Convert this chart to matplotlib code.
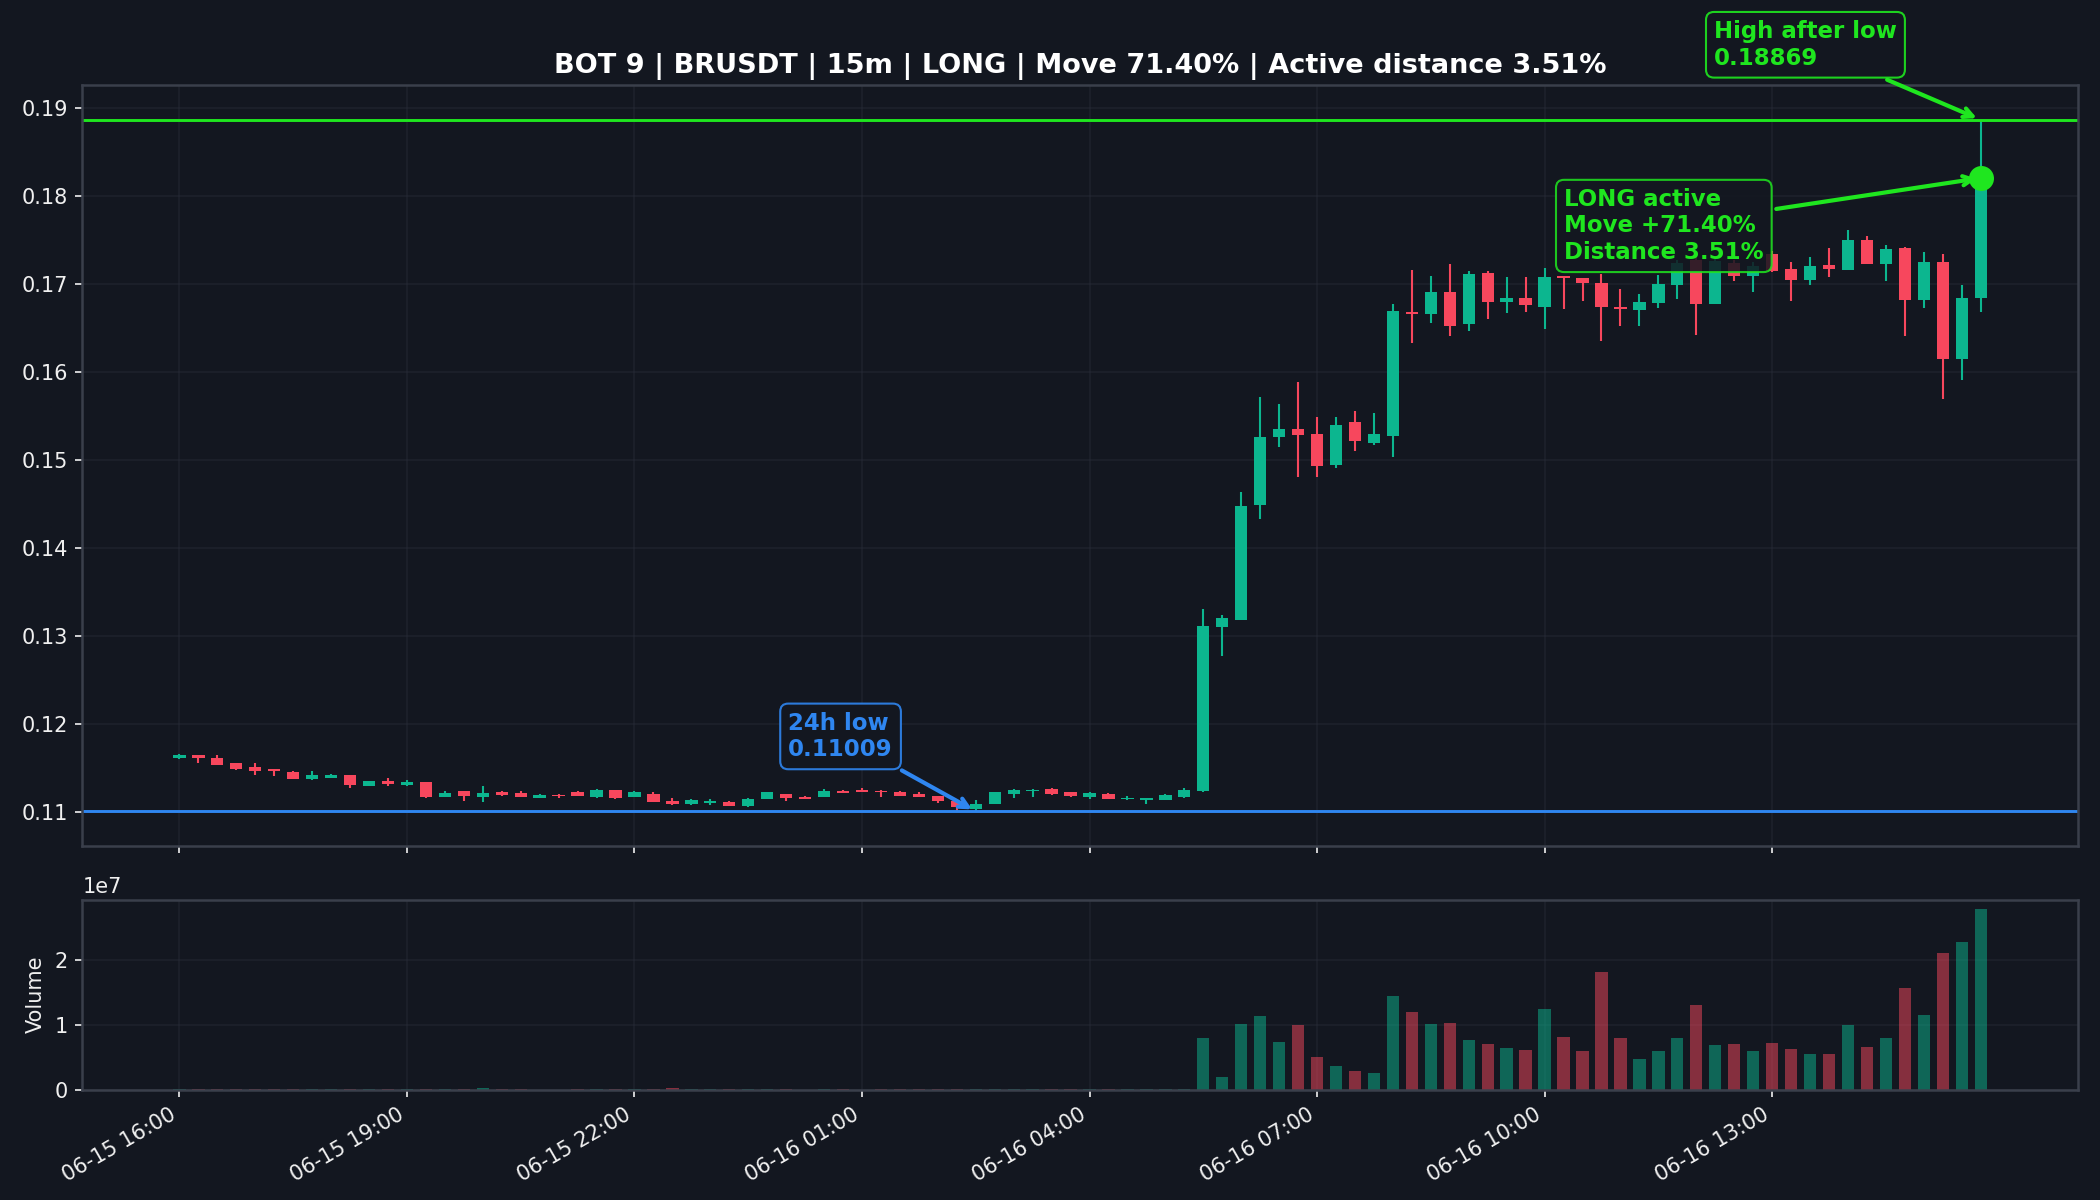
"""
BRUSDT 15m candles with the 24h low / high-after-low markers and a volume pane.
"""

import numpy as np
import matplotlib
matplotlib.use("Agg")
import matplotlib.pyplot as plt
import matplotlib.dates as mdates

# ---- Data ----
start = np.datetime64("2025-06-15T16:00")
n_bars = 96

opens = [
    0.11617, 0.11648, 0.11621, 0.11557, 0.11511, 0.11489, 0.11462, 0.11375, 0.11390, 0.11421,
    0.11299, 0.11360, 0.11307, 0.11341, 0.11171, 0.11239, 0.11178, 0.11231, 0.11216, 0.11163,
    0.11201, 0.11227, 0.11178, 0.11250, 0.11174, 0.11212, 0.11129, 0.11091, 0.11102, 0.11121,
    0.11072, 0.11155, 0.11208, 0.11178, 0.11178, 0.11239, 0.11250, 0.11246, 0.11227, 0.11205,
    0.11186, 0.11129, 0.11042, 0.11095, 0.11208, 0.11242, 0.11261, 0.11224, 0.11178, 0.11212,
    0.11152, 0.11140, 0.11140, 0.11178, 0.11240, 0.13102, 0.13185, 0.14491, 0.15264, 0.15357,
    0.15301, 0.14944, 0.15435, 0.15194, 0.15273, 0.16685, 0.16662, 0.16917, 0.16546, 0.17130,
    0.16801, 0.16847, 0.16736, 0.17097, 0.17070, 0.17015, 0.16742, 0.16712, 0.16784, 0.16992,
    0.17280, 0.16777, 0.17242, 0.17091, 0.17345, 0.17174, 0.17053, 0.17224, 0.17159, 0.17504,
    0.17231, 0.17417, 0.16818, 0.17258, 0.16152, 0.16845,
]
highs = [
    0.11663, 0.11650, 0.11648, 0.11560, 0.11561, 0.11491, 0.11464, 0.11466, 0.11432, 0.11423,
    0.11354, 0.11390, 0.11364, 0.11343, 0.11239, 0.11240, 0.11296, 0.11246, 0.11239, 0.11203,
    0.11203, 0.11242, 0.11265, 0.11252, 0.11242, 0.11224, 0.11167, 0.11148, 0.11148, 0.11123,
    0.11157, 0.11225, 0.11210, 0.11180, 0.11269, 0.11254, 0.11277, 0.11248, 0.11239, 0.11224,
    0.11188, 0.11131, 0.11136, 0.11225, 0.11260, 0.11260, 0.11273, 0.11226, 0.11231, 0.11214,
    0.11189, 0.11165, 0.11203, 0.11273, 0.13315, 0.13241, 0.14644, 0.15718, 0.15644, 0.15884,
    0.15486, 0.15495, 0.15556, 0.15532, 0.16778, 0.17167, 0.17093, 0.17232, 0.17148, 0.17148,
    0.17083, 0.17083, 0.17185, 0.17099, 0.17072, 0.17120, 0.16951, 0.16894, 0.17110, 0.17280,
    0.17320, 0.17300, 0.17280, 0.17250, 0.17375, 0.17250, 0.17311, 0.17413, 0.17621, 0.17553,
    0.17443, 0.17419, 0.17367, 0.17345, 0.16989, 0.18869,
]
lows = [
    0.11610, 0.11561, 0.11535, 0.11477, 0.11421, 0.11413, 0.11373, 0.11364, 0.11388, 0.11273,
    0.11297, 0.11296, 0.11299, 0.11159, 0.11169, 0.11125, 0.11114, 0.11186, 0.11172, 0.11161,
    0.11159, 0.11184, 0.11159, 0.11148, 0.11172, 0.11115, 0.11080, 0.11080, 0.11083, 0.11070,
    0.11061, 0.11153, 0.11129, 0.11153, 0.11176, 0.11214, 0.11227, 0.11174, 0.11182, 0.11176,
    0.11110, 0.11015, 0.11009, 0.11093, 0.11159, 0.11174, 0.11197, 0.11171, 0.11155, 0.11150,
    0.11136, 0.11091, 0.11138, 0.11163, 0.11230, 0.12778, 0.13183, 0.14329, 0.15148, 0.14810,
    0.14810, 0.14917, 0.15107, 0.15171, 0.15042, 0.16329, 0.16556, 0.16407, 0.16468, 0.16607,
    0.16671, 0.16690, 0.16491, 0.16718, 0.16807, 0.16352, 0.16523, 0.16530, 0.16735, 0.16837,
    0.16420, 0.16775, 0.17034, 0.16909, 0.17140, 0.16807, 0.16989, 0.17080, 0.17157, 0.17229,
    0.17034, 0.16409, 0.16731, 0.15697, 0.15909, 0.16682,
]
closes = [
    0.11648, 0.11617, 0.11538, 0.11489, 0.11466, 0.11466, 0.11375, 0.11421, 0.11421, 0.11311,
    0.11352, 0.11322, 0.11345, 0.11178, 0.11216, 0.11182, 0.11216, 0.11193, 0.11174, 0.11201,
    0.11182, 0.11186, 0.11250, 0.11163, 0.11227, 0.11117, 0.11095, 0.11136, 0.11133, 0.11072,
    0.11155, 0.11224, 0.11163, 0.11155, 0.11239, 0.11216, 0.11231, 0.11224, 0.11189, 0.11178,
    0.11125, 0.11064, 0.11095, 0.11224, 0.11258, 0.11258, 0.11205, 0.11186, 0.11216, 0.11152,
    0.11167, 0.11163, 0.11201, 0.11250, 0.13111, 0.13204, 0.14482, 0.15259, 0.15357, 0.15287,
    0.14935, 0.15403, 0.15213, 0.15301, 0.16699, 0.16657, 0.16917, 0.16523, 0.17120, 0.16796,
    0.16843, 0.16759, 0.17083, 0.17069, 0.17015, 0.16739, 0.16720, 0.16803, 0.17004, 0.17242,
    0.16777, 0.17260, 0.17099, 0.17205, 0.17150, 0.17053, 0.17208, 0.17174, 0.17504, 0.17231,
    0.17405, 0.16826, 0.17258, 0.16152, 0.16845, 0.18207,
]
volumes = [
    40000, 60000, 50000, 45000, 55000, 40000, 50000, 45000, 35000, 60000,
    40000, 45000, 35000, 70000, 50000, 60000, 260000, 40000, 35000, 30000,
    30000, 40000, 60000, 50000, 45000, 60000, 220000, 50000, 45000, 40000,
    60000, 50000, 45000, 30000, 50000, 35000, 30000, 40000, 45000, 35000,
    50000, 70000, 80000, 60000, 50000, 45000, 40000, 35000, 40000, 40000,
    35000, 40000, 45000, 60000, 8.0e6, 1.96e6, 1.015e7, 1.14e7, 7.37e6, 1.0e7,
    5.05e6, 3.66e6, 2.89e6, 2.58e6, 1.448e7, 1.20e7, 1.015e7, 1.03e7, 7.68e6, 7.06e6,
    6.44e6, 6.13e6, 1.247e7, 8.14e6, 5.98e6, 1.82e7, 8.0e6, 4.74e6, 5.98e6, 8.0e6,
    1.31e7, 6.9e6, 7.06e6, 5.98e6, 7.2e6, 6.29e6, 5.5e6, 5.5e6, 1.0e7, 6.6e6,
    8.0e6, 1.57e7, 1.155e7, 2.10e7, 2.27e7, 2.79e7,
]

low_24h = 0.11009
low_idx = 42
high_after_low = 0.18869
move_pct = 71.40
distance_pct = 3.51

# ---- Style ----
BG = "#131720"
UP = "#0cb68f"
DOWN = "#f7475d"
BLUE = "#2f86f0"
LIME = "#1fe61f"
GRID = "#2a2e39"
SPINE = "#3a3f4b"
TXT = "#f0f0f0"


def main():
    times = start + np.arange(n_bars) * np.timedelta64(15, "m")
    x = mdates.date2num(times.astype("datetime64[ms]").astype(object))
    step = x[1] - x[0]
    o, h, l, c = map(np.asarray, (opens, highs, lows, closes))
    v = np.asarray(volumes, dtype=float)
    up = c >= o
    colors = np.where(up, UP, DOWN)

    fig = plt.figure(figsize=(14, 8), dpi=150, facecolor=BG)
    ax = fig.add_axes([0.0392, 0.295, 0.9503, 0.634], facecolor=BG)
    axv = fig.add_axes([0.0392, 0.0919, 0.9503, 0.1584], facecolor=BG, sharex=ax)

    for a in (ax, axv):
        a.grid(True, color=GRID, linewidth=0.8, alpha=0.45)
        a.set_axisbelow(True)
        for s in a.spines.values():
            s.set_color(SPINE)
            s.set_linewidth(1.2)
        a.tick_params(colors=TXT, labelsize=10)

    # candles
    ax.vlines(x, l, h, colors=colors, linewidth=1.0, zorder=2)
    body = np.maximum(np.abs(c - o), 0.00004)
    ax.bar(x, body, bottom=np.minimum(o, c), width=step * 0.65,
           color=colors, linewidth=0, zorder=3)

    ax.axhline(low_24h, color=BLUE, linewidth=1.4, zorder=2.5)
    ax.axhline(high_after_low, color=LIME, linewidth=1.4, zorder=2.5)
    ax.plot(x[-1], c[-1], "o", color=LIME, markersize=11, zorder=5)

    ax.annotate(f"24h low\n{low_24h:.5f}", xy=(x[low_idx], low_24h),
                xytext=(-90, 36), textcoords="offset points", ha="left", va="center",
                color=BLUE, fontsize=11, fontweight="bold",
                bbox=dict(boxstyle="round,pad=0.35", fc=BG, ec=BLUE, alpha=0.9),
                arrowprops=dict(arrowstyle="->", color=BLUE, lw=2), zorder=6)
    ax.annotate(f"High after low\n{high_after_low:.5f}", xy=(x[-1], high_after_low),
                xytext=(-128, 36), textcoords="offset points", ha="left", va="center",
                color=LIME, fontsize=11, fontweight="bold",
                bbox=dict(boxstyle="round,pad=0.35", fc=BG, ec=LIME, alpha=0.9),
                arrowprops=dict(arrowstyle="->", color=LIME, lw=2), zorder=6)
    ax.annotate(f"LONG active\nMove +{move_pct:.2f}%\nDistance {distance_pct:.2f}%",
                xy=(x[-1], c[-1]),
                xytext=(-200, -23), textcoords="offset points", ha="left", va="center",
                color=LIME, fontsize=11, fontweight="bold",
                bbox=dict(boxstyle="round,pad=0.35", fc=BG, ec=LIME, alpha=0.85),
                arrowprops=dict(arrowstyle="->", color=LIME, lw=2), zorder=6)

    ax.set_title(f"BOT 9 | BRUSDT | 15m | LONG | Move {move_pct:.2f}% | "
                 f"Active distance {distance_pct:.2f}%",
                 color="white", fontsize=13, fontweight="bold")
    ax.set_xlim(x[0] - 5.12 * step, x[0] + 100.13 * step)
    ax.set_ylim(0.10616, 0.19262)
    ax.tick_params(labelbottom=False)

    # volume
    axv.bar(x, v, width=step * 0.65, color=colors, alpha=0.5, linewidth=0)
    axv.set_ylim(0, 2.93e7)
    axv.set_ylabel("Volume", color=TXT, fontsize=10)
    axv.yaxis.get_offset_text().set_color(TXT)
    axv.yaxis.get_offset_text().set_fontsize(10)

    # ticks every 3 hours, from the first candle
    axv.set_xticks(x[::12])
    axv.xaxis.set_major_formatter(mdates.DateFormatter("%m-%d %H:%M"))
    plt.setp(axv.get_xticklabels(), rotation=30, ha="right")

    fig.savefig("out.png", dpi=150, facecolor=BG)


if __name__ == "__main__":
    main()
